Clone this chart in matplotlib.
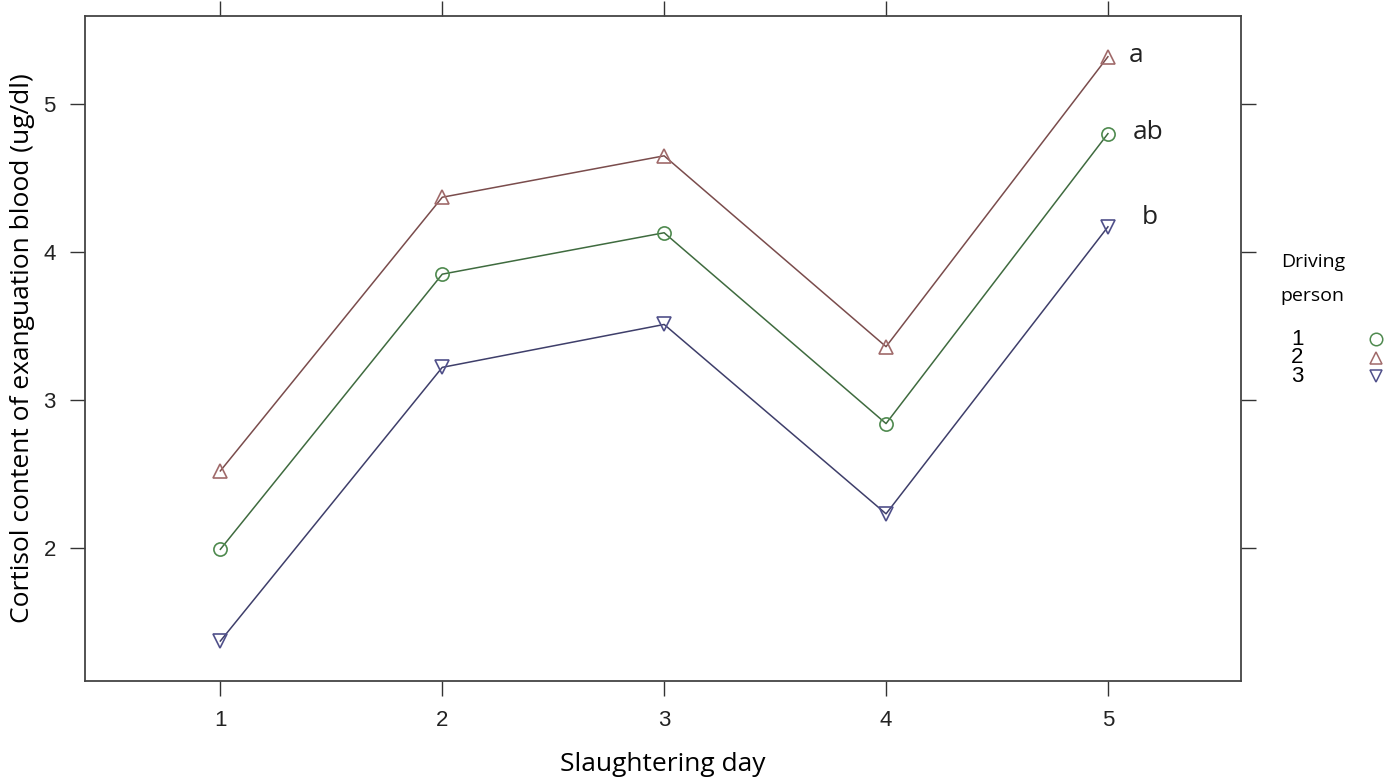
import matplotlib.pyplot as plt
from matplotlib.lines import Line2D

# data
days = [1, 2, 3, 4, 5]
person1 = [1.99, 3.85, 4.13, 2.84, 4.80]
person2 = [2.52, 4.37, 4.65, 3.36, 5.32]
person3 = [1.37, 3.22, 3.51, 2.23, 4.17]
persons = ['1', '2', '3']
letters = ['ab', 'a', 'b']

series = [person1, person2, person3]
markers = ['o', '^', 'v']
line_cols = ['#3f6b3f', '#7a4c4c', '#3e3e6a']
mark_cols = ['#4f8a4f', '#a06a6a', '#50508a']
# text offsets (points) for the significance letters
letter_off = [(18, 1), (15, 1), (24, 7)]

fig = plt.figure(figsize=(13.89, 7.82), dpi=100)
ax = fig.add_axes([0.0612, 0.1292, 0.8323, 0.8503])

for ys, m, lc, mc, lab, off in zip(series, markers, line_cols, mark_cols, letters, letter_off):
    ax.plot(days, ys, color=lc, linewidth=1.1, zorder=2)
    ax.plot(days, ys, linestyle='none', marker=m, markersize=9.5,
            markerfacecolor='none', markeredgecolor=mc, markeredgewidth=1.2, zorder=3)
    ax.annotate(lab, xy=(days[-1], ys[-1]), xytext=off, textcoords='offset points',
                ha='left', va='center', fontsize=19, family='Open Sans', color='#222222')

ax.set_xlim(0.39, 5.6)
ax.set_ylim(1.10, 5.595)
ax.set_xticks(days)
ax.set_yticks([2, 3, 4, 5])
ax.tick_params(direction='out', length=11, width=1.0, colors='#333333',
               labelsize=16, labelcolor='#222222', top=True, right=True,
               labeltop=False, labelright=False, pad=10)
for lab in ax.get_xticklabels() + ax.get_yticklabels():
    lab.set_family('Liberation Sans')
for s in ax.spines.values():
    s.set_color('#444444')
    s.set_linewidth(1.3)

ax.set_xlabel('Slaughtering day', fontsize=19, family='Open Sans', labelpad=15)
ax.set_ylabel('Cortisol content of exanguation blood (ug/dl)', fontsize=19,
              family='Open Sans', labelpad=6)

# legend drawn by hand, lattice style
fig.text(0.922, 0.665, 'Driving', fontsize=14, family='Open Sans', va='center', ha='left')
fig.text(0.922, 0.621, 'person', fontsize=14, family='Open Sans', va='center', ha='left')
for i, (p, m, mc) in enumerate(zip(persons, markers, mark_cols)):
    yy = 0.566 - i * 0.0237
    fig.text(0.934, yy, p, fontsize=16, family='Liberation Sans', va='center', ha='center',
             linespacing=1.0)
    fig.add_artist(Line2D([0.991], [yy], transform=fig.transFigure, marker=m,
                          markersize=9, markerfacecolor='none', markeredgecolor=mc,
                          markeredgewidth=1.1, linestyle='none'))

fig.savefig('out.png', dpi=100)
